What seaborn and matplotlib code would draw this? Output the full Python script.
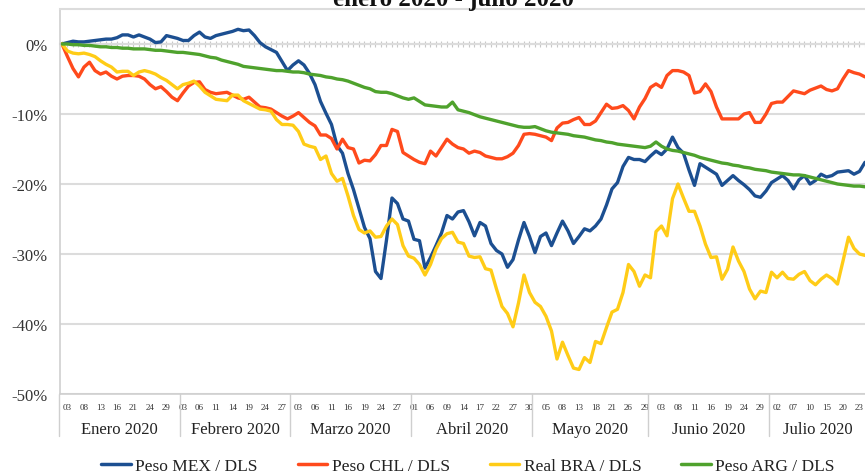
import numpy as np
import pandas as pd
import matplotlib
matplotlib.use("Agg")
import matplotlib.pyplot as plt
import matplotlib.transforms as mtransforms
from matplotlib.lines import Line2D
from matplotlib.ticker import FuncFormatter
import seaborn as sns

# ---------------- data (% change vs. 2 Jan 2020, business days) ----------------
start_date = "2020-01-02"
series_names = ["Peso MEX / DLS", "Peso CHL / DLS", "Real BRA / DLS", "Peso ARG / DLS"]
series_colors = ["#1c4f91", "#ff4a1c", "#ffcc17", "#4fa22d"]
month_names = ["Enero 2020", "Febrero 2020", "Marzo 2020", "Abril 2020",
               "Mayo 2020", "Junio 2020", "Julio 2020"]
y_ticks = [0, -10, -20, -30, -40, -50]

mex = [0, 0.2, 0.4, 0.3, 0.3, 0.4, 0.5, 0.6, 0.7, 0.7,
       0.9, 1.3, 1.3, 1.0, 1.3, 1.0, 0.7, 0.2, 0.3, 1.2,
       1.0, 0.8, 0.5, 0.5, 1.2, 1.7, 1.0, 0.8, 1.2, 1.4,
       1.6, 1.8, 2.1, 1.9, 2.0, 1.2, 0.2, -0.4, -0.8, -1.2,
       -2.5, -3.8, -3.0, -2.4, -3.0, -4.2, -5.8, -8.2, -9.9, -11.5,
       -14.5, -15.6, -18.5, -20.8, -23.5, -26.2, -27.8, -32.5, -33.5, -28.0,
       -22.0, -22.8, -25.0, -25.3, -27.9, -28.1, -32.0, -30.5, -28.8, -27.0,
       -24.5, -25.0, -24.0, -23.8, -25.4, -27.4, -25.5, -26.0, -28.5, -29.5,
       -30.0, -31.9, -30.8, -28.0, -25.5, -27.5, -29.8, -27.5, -27.0, -28.8,
       -27.0, -25.3, -26.7, -28.5, -27.5, -26.4, -26.7, -26.0, -25.0, -23.0,
       -20.7, -19.8, -17.5, -16.2, -16.5, -16.5, -16.8, -16.0, -15.3, -15.8,
       -15.0, -13.3, -14.8, -15.6, -18.0, -20.2, -17.1, -17.6, -18.1, -18.6,
       -20.2, -19.5, -18.8, -19.5, -20.1, -20.8, -21.7, -21.9, -21.0, -19.8,
       -19.3, -18.8, -19.5, -20.7, -19.4, -18.8, -20.0, -19.5, -18.6, -19.0,
       -18.8, -18.3, -18.2, -18.1, -18.6, -18.2, -16.9]

chl = [0, -1.8, -3.5, -4.7, -3.3, -2.6, -3.8, -4.3, -4.0, -4.6,
       -5.0, -4.6, -4.5, -4.5, -4.6, -5.0, -5.8, -6.4, -6.1, -6.8,
       -7.6, -8.1, -7.0, -6.0, -5.5, -5.4, -6.5, -6.9, -7.1, -7.0,
       -6.9, -7.3, -7.7, -7.9, -7.6, -8.3, -9.0, -9.1, -9.3, -9.8,
       -10.3, -10.7, -10.3, -9.8, -10.5, -11.2, -11.7, -13.0, -13.0, -13.5,
       -15.0, -13.6, -14.8, -15.0, -17.0, -16.6, -16.7, -15.8, -14.5, -14.5,
       -12.2, -12.5, -15.5, -16.0, -16.5, -16.9, -17.1, -15.3, -16.0, -14.8,
       -13.6, -14.3, -14.8, -15.0, -15.6, -15.3, -15.5, -16.0, -16.2, -16.4,
       -16.4, -16.1, -15.6, -14.5, -12.9, -12.8, -12.9, -13.1, -13.3, -13.8,
       -12.0, -11.3, -11.2, -10.8, -10.5, -11.5, -11.5, -11.0, -9.8, -8.6,
       -9.2, -9.1, -8.8, -9.5, -10.7, -9.0, -7.8, -6.2, -5.7, -6.2,
       -4.5, -3.8, -3.8, -4.0, -4.5, -7.0, -6.8, -5.7, -6.8, -9.0,
       -10.7, -10.7, -10.7, -10.7, -10.0, -9.8, -11.2, -11.2, -10.0, -8.5,
       -8.3, -8.3, -7.5, -6.7, -6.9, -7.1, -6.6, -6.3, -6.0, -6.5,
       -6.7, -6.4, -5.0, -3.8, -4.1, -4.3, -4.7]

bra = [0, -1.0, -1.3, -1.4, -1.3, -1.5, -1.8, -2.4, -2.9, -3.3,
       -4.0, -3.9, -3.9, -4.5, -4.0, -3.8, -4.0, -4.3, -4.8, -5.2,
       -5.8, -6.4, -5.8, -5.6, -5.3, -6.0, -6.9, -7.4, -7.9, -8.0,
       -8.1, -7.3, -7.3, -8.1, -8.5, -8.9, -9.3, -9.4, -9.6, -10.8,
       -11.5, -11.5, -11.6, -12.5, -14.3, -14.6, -14.8, -16.5, -16.0, -18.5,
       -19.6, -19.2, -21.7, -24.5, -26.5, -27.0, -26.7, -27.6, -27.5, -26.0,
       -25.0, -25.8, -28.8, -30.3, -30.6, -31.5, -33.0, -31.5, -29.3, -27.8,
       -27.1, -26.9, -28.3, -28.5, -30.3, -30.5, -30.4, -32.1, -32.3, -35.0,
       -37.5, -38.5, -40.4, -37.0, -33.0, -35.5, -36.9, -37.5, -38.9, -41.0,
       -45.0, -42.6, -44.5, -46.3, -46.5, -44.8, -45.5, -42.5, -42.8, -40.5,
       -38.3, -37.9, -35.5, -31.5, -32.5, -34.6, -33.0, -33.4, -26.8, -26.0,
       -27.4, -22.1, -20.0, -22.0, -23.9, -23.9, -26.0, -28.6, -30.5, -30.4,
       -33.6, -32.2, -29.0, -31.0, -32.5, -35.0, -36.4, -35.3, -35.5, -32.6,
       -33.4, -32.6, -33.5, -33.6, -32.9, -32.5, -33.8, -34.4, -33.6, -33.0,
       -33.5, -34.3, -31.0, -27.6, -29.2, -30.0, -30.2]

arg = [0, 0, -0.1, -0.1, -0.2, -0.2, -0.3, -0.4, -0.4, -0.5,
       -0.5, -0.6, -0.6, -0.7, -0.7, -0.7, -0.8, -0.9, -0.9, -1.0,
       -1.1, -1.2, -1.2, -1.3, -1.4, -1.5, -1.7, -1.9, -2.0, -2.3,
       -2.5, -2.7, -2.9, -3.2, -3.3, -3.4, -3.5, -3.6, -3.7, -3.8,
       -3.8, -3.9, -4.0, -4.0, -4.1, -4.3, -4.4, -4.5, -4.7, -4.8,
       -5.0, -5.1, -5.3, -5.6, -5.9, -6.2, -6.4, -6.8, -6.9, -6.9,
       -7.1, -7.4, -7.7, -7.9, -7.7, -8.2, -8.7, -8.8, -8.9, -9.0,
       -9.0, -8.3, -9.4, -9.6, -9.8, -10.1, -10.4, -10.6, -10.8, -11.0,
       -11.2, -11.4, -11.6, -11.8, -11.9, -11.9, -11.8, -12.1, -12.4, -12.6,
       -12.7, -12.8, -12.9, -13.1, -13.2, -13.3, -13.5, -13.7, -13.8, -14.0,
       -14.1, -14.3, -14.4, -14.5, -14.6, -14.7, -14.8, -14.6, -14.0, -14.6,
       -15.0, -15.2, -15.3, -15.5, -15.7, -15.9, -16.2, -16.4, -16.6, -16.8,
       -17.0, -17.1, -17.3, -17.4, -17.6, -17.7, -17.9, -18.0, -18.1, -18.3,
       -18.4, -18.5, -18.6, -18.7, -18.7, -18.8, -19.0, -19.2, -19.4, -19.6,
       -19.8, -20.0, -20.1, -20.2, -20.3, -20.3, -20.4]

# ---------------- build table ----------------
n = len(mex)
dates = pd.bdate_range(start_date, periods=n)
idx = np.arange(n)
wide = pd.DataFrame({"i": idx, series_names[0]: mex, series_names[1]: chl,
                     series_names[2]: bra, series_names[3]: arg})
df = wide.melt(id_vars="i", var_name="serie", value_name="v")

sns.set_theme(style="white")
plt.rcParams["font.family"] = ["Liberation Serif", "DejaVu Serif"]

W, H = 865, 477
fig = plt.figure(figsize=(W / 100, H / 100), dpi=100)
ax = fig.add_axes([60 / W, 1 - 395 / H, 805 / W, 385 / H])

sns.lineplot(data=df, x="i", y="v", hue="serie", hue_order=series_names,
             palette=series_colors, linewidth=2.4, legend=False, ax=ax)

ax.set_xlim(-0.36, n - 1)
ax.set_ylim(-50, 5)
ax.set_xlabel("")
ax.set_ylabel("")

# y axis
ax.set_yticks(y_ticks)
ax.yaxis.set_major_formatter(FuncFormatter(lambda v, p: f"{int(round(v))}%"))
ax.tick_params(axis="y", length=0, labelsize=12, labelcolor="#333333", pad=9)
ax.yaxis.grid(True, color="#dcdcdc", linewidth=1.5)
ax.xaxis.grid(False)

# x axis: every business day tick, label every third day
ax.set_xticks(idx)
labels = [d.strftime("%d") if k % 3 == 1 else "" for k, d in enumerate(dates)]
ax.set_xticklabels(labels, fontsize=6.5, color="#333333")
ax.tick_params(axis="x", direction="inout", length=9, width=0.8,
               color="#c4c4c4", pad=2)

for side in ["left", "bottom"]:
    ax.spines[side].set_color("#cfcfcf")
    ax.spines[side].set_linewidth(1.2)
ax.spines["top"].set_color("#dcdcdc")
ax.spines["top"].set_linewidth(1.5)
ax.spines["right"].set_visible(False)

# zero line with small ticks (horizontal axis crossing at 0)
ylo, yhi = ax.get_ylim()
sec = ax.secondary_xaxis((0 - ylo) / (yhi - ylo))
sec.set_xticks(idx)
sec.tick_params(direction="inout", length=5, width=0.8, color="#c8c8c8",
                labeltop=False, labelbottom=False)
for s in sec.spines.values():
    s.set_color("#d6d6d6")
    s.set_linewidth(1.5)

# month separators and labels
trans = mtransforms.blended_transform_factory(ax.transData, ax.transAxes)
months = dates.month
starts = [0] + [k for k in range(1, n) if months[k] != months[k - 1]]
ends = starts[1:] + [n]
for s0 in starts:
    ax.plot([s0 - 0.5, s0 - 0.5], [0, -0.11], transform=trans,
            color="#cfcfcf", lw=1.0, clip_on=False)
for name, s0, e0 in zip(month_names, starts, ends):
    ax.text((s0 - 0.5 + e0 - 0.5) / 2, -0.09, name, transform=trans,
            ha="center", va="center", fontsize=12, color="#222222")

# legend
handles = [Line2D([0], [0], color=c, lw=2.5) for c in series_colors]
fig.legend(handles, series_names, loc="center", bbox_to_anchor=(468 / W, 1 - 467 / H),
           ncol=4, frameon=False, fontsize=12.5, handlelength=1.7,
           handletextpad=0.25, columnspacing=2.3, labelcolor="#222222")

# title (partially cropped at the top, as in the source image)
fig.text(454 / W, 1 - 6 / H, "enero 2020 - julio 2020", ha="center",
         va="baseline", fontsize=18, fontweight="bold", color="#111111")

fig.savefig("out.png", dpi=100)
